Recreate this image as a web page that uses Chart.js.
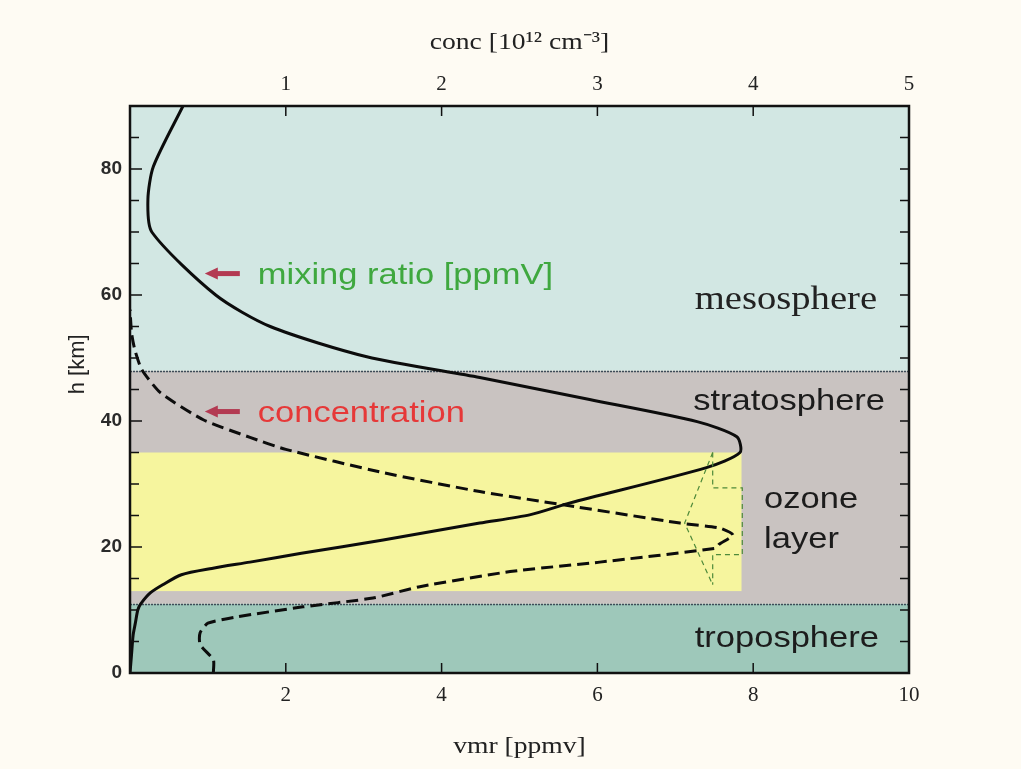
<!DOCTYPE html>
<html>
<head>
<meta charset="utf-8">
<script src="https://cdn.jsdelivr.net/npm/chart.js@4.4.1/dist/chart.umd.min.js"></script>
<style>
	html, body { margin: 0; padding: 0; background: #fefbf3; }
	#wrap { position: relative; width: 1021px; height: 769px; }
</style>
</head>
<body>
<div id="wrap"><canvas id="ozoneChart" width="1021" height="769"></canvas></div>
<script>
// mixing ratio (vmr, ppmv) vs height (km)
const mixHeights = [0, 3, 6, 8, 10, 11, 12.7, 14, 15.6, 16.6, 17.6, 19, 21.1, 23.8, 25.1, 27, 32.6, 35, 37.5, 39.9, 43.4, 46.9, 50.2, 55, 60, 70, 75.2, 80.4, 90];
const mixVmr = [0, 0.02, 0.04, 0.07, 0.1, 0.14, 0.26, 0.42, 0.66, 1.05, 1.54, 2.2, 3.25, 4.49, 5.13, 5.65, 7.4, 7.83, 7.79, 7.28, 5.9, 4.49, 3.04, 1.8, 1.1, 0.28, 0.23, 0.3, 0.68];
// concentration (10^12 cm^-3) vs height (km)
const concHeights = [0, 2.1, 4.5, 6.4, 7.9, 8.9, 10.5, 11.9, 13.7, 16.1, 17.6, 19.8, 20.4, 21.9, 23, 23.8, 26.7, 28.8, 31.8, 35.5, 37.4, 40.2, 44.5, 48.2, 51.4, 54, 57.7];
const concValues = [0.535, 0.535, 0.45, 0.45, 0.5, 0.685, 1.11, 1.56, 1.86, 2.44, 3.015, 3.76, 3.78, 3.87, 3.785, 3.53, 2.78, 2.245, 1.625, 1.0, 0.77, 0.47, 0.195, 0.075, 0.03, 0.01, 0];
// thin green reference profile inside the ozone layer
const stepHeights = [35, 29.4, 29.4, 18.8, 18.8, 14];
const stepVmr = [7.48, 7.48, 7.86, 7.86, 7.48, 7.48];
const diagHeights = [35, 23.8, 14];
const diagVmr = [7.48, 7.12, 7.48];
// atmosphere layers (km)
const layerNames = ['troposphere', 'stratosphere', 'mesosphere'];
const layerBottoms = [0, 11, 48];
const layerTops = [11, 48, 90];
const ozoneLayer = { bottom: 13, top: 35, vmrMax: 7.85 };
// tick labels
const vmrTicks = [2, 4, 6, 8, 10];
const concTicks = [1, 2, 3, 4, 5];
const heightTicks = [0, 20, 40, 60, 80];

const layerColors = ['#9ec8ba', '#c9c3c1', '#d2e7e3'];
const SANS = '"Liberation Sans", Arial, sans-serif';
const SERIF = '"Liberation Serif", "Times New Roman", serif';

const toPoints = (xs, hs) => hs.map((h, i) => ({ x: xs[i], y: h }));

// 横に少し伸ばした文字を描く
function stretchText(ctx, str, px, py, font, color, sx, align) {
	ctx.save();
	ctx.translate(px, py);
	ctx.scale(sx, 1);
	ctx.font = font;
	ctx.fillStyle = color;
	ctx.textAlign = align || 'left';
	ctx.textBaseline = 'alphabetic';
	ctx.fillText(str, 0, 0);
	ctx.restore();
}

function drawArrow(ctx, x0, x1, y, color) {
	ctx.save();
	ctx.strokeStyle = color;
	ctx.fillStyle = color;
	ctx.lineWidth = 5;
	ctx.beginPath();
	ctx.moveTo(x1, y);
	ctx.lineTo(x0 + 10, y);
	ctx.stroke();
	ctx.beginPath();
	ctx.moveTo(x0, y);
	ctx.lineTo(x0 + 13, y - 6);
	ctx.lineTo(x0 + 13, y + 6);
	ctx.closePath();
	ctx.fill();
	ctx.restore();
}

const atmospherePlugin = {
	id: 'atmosphere',
	beforeDatasetsDraw(chart) {
		const { ctx, chartArea: a, scales } = chart;
		const x = scales.x, y = scales.y;
		ctx.save();
		layerBottoms.forEach((b, i) => {
			const top = y.getPixelForValue(layerTops[i]);
			const bot = y.getPixelForValue(b);
			ctx.fillStyle = layerColors[i];
			ctx.fillRect(a.left, top, a.right - a.left, bot - top);
		});
		// ozone layer box
		const oTop = y.getPixelForValue(ozoneLayer.top);
		const oBot = y.getPixelForValue(ozoneLayer.bottom);
		ctx.fillStyle = '#f6f59e';
		ctx.fillRect(a.left, oTop, x.getPixelForValue(ozoneLayer.vmrMax) - a.left, oBot - oTop);
		// layer boundaries
		ctx.strokeStyle = '#3e4c58';
		ctx.lineWidth = 1.6;
		ctx.setLineDash([2, 1]);
		[layerTops[0], layerTops[1]].forEach(h => {
			const py = Math.round(y.getPixelForValue(h)) + 0.5;
			ctx.beginPath();
			ctx.moveTo(a.left, py);
			ctx.lineTo(a.right, py);
			ctx.stroke();
		});
		ctx.restore();
	},
	afterDatasetsDraw(chart) {
		const { ctx, chartArea: a, scales } = chart;
		const x = scales.x, x2 = scales.x2, y = scales.y;
		ctx.save();
		// inward ticks
		ctx.strokeStyle = '#111';
		ctx.lineWidth = 1.5;
		ctx.beginPath();
		y.ticks.forEach(t => {
			const py = y.getPixelForValue(t.value);
			if (t.value <= 0 || t.value >= 90) return;
			const len = t.value % 20 === 0 ? 12 : 9;
			ctx.moveTo(a.left, py); ctx.lineTo(a.left + len, py);
			ctx.moveTo(a.right, py); ctx.lineTo(a.right - 9, py);
		});
		vmrTicks.forEach(v => {
			if (v >= 10) return;
			const px = x.getPixelForValue(v);
			ctx.moveTo(px, a.bottom); ctx.lineTo(px, a.bottom - 10);
		});
		concTicks.forEach(v => {
			if (v >= 5) return;
			const px = x2.getPixelForValue(v);
			ctx.moveTo(px, a.top); ctx.lineTo(px, a.top + 10);
		});
		ctx.stroke();
		// frame
		ctx.lineWidth = 2.5;
		ctx.strokeStyle = '#111';
		ctx.strokeRect(a.left, a.top, a.right - a.left, a.bottom - a.top);

		// layer labels
		const sx = 1.15;
		stretchText(ctx, 'mesosphere', x.getPixelForValue(7.25), y.getPixelForValue(57.7), '33px ' + SERIF, '#222', 1.17);
		stretchText(ctx, 'stratosphere', x.getPixelForValue(7.23), y.getPixelForValue(41.8), '30px ' + SANS, '#1c1c1c', sx);
		stretchText(ctx, 'ozone', x.getPixelForValue(8.14), y.getPixelForValue(26.2), '30px ' + SANS, '#1c1c1c', sx);
		stretchText(ctx, 'layer', x.getPixelForValue(8.14), y.getPixelForValue(19.9), '30px ' + SANS, '#1c1c1c', sx);
		stretchText(ctx, 'troposphere', x.getPixelForValue(7.25), y.getPixelForValue(4.1), '30px ' + SANS, '#1c1c1c', sx);
		// curve labels with arrows
		drawArrow(ctx, x.getPixelForValue(0.96), x.getPixelForValue(1.41), y.getPixelForValue(63.4), '#b33a52');
		drawArrow(ctx, x.getPixelForValue(0.96), x.getPixelForValue(1.41), y.getPixelForValue(41.5), '#b33a52');
		stretchText(ctx, 'mixing ratio [ppmV]', x.getPixelForValue(1.64), y.getPixelForValue(61.7), '30px ' + SANS, '#3fa83f', sx);
		stretchText(ctx, 'concentration', x.getPixelForValue(1.64), y.getPixelForValue(39.9), '30px ' + SANS, '#e63838', sx);

		// axis titles
		const cx = (a.left + a.right) / 2;
		stretchText(ctx, 'conc [10¹² cm⁻³]', cx, a.top - 57, '24px ' + SERIF, '#222', 1.15, 'center');
		stretchText(ctx, 'vmr [ppmv]', cx, a.bottom + 80, '24px ' + SERIF, '#222', 1.15, 'center');
		ctx.save();
		ctx.translate(a.left - 52, y.getPixelForValue(49));
		ctx.rotate(-Math.PI / 2);
		ctx.font = '22px ' + SANS;
		ctx.fillStyle = '#222';
		ctx.textAlign = 'center';
		ctx.textBaseline = 'middle';
		ctx.fillText('h [km]', 0, 0);
		ctx.restore();
		ctx.restore();
	}
};

const tickFontSerif = { family: SERIF, size: 21 };

new Chart(document.getElementById('ozoneChart'), {
	type: 'scatter',
	data: {
		datasets: [{
			label: 'ozone reference (step)',
			data: toPoints(stepVmr, stepHeights),
			xAxisID: 'x',
			showLine: true,
			borderColor: '#4e8a3a',
			borderWidth: 1.2,
			borderDash: [5, 4],
			pointRadius: 0,
			tension: 0
		}, {
			label: 'ozone reference (diag)',
			data: toPoints(diagVmr, diagHeights),
			xAxisID: 'x',
			showLine: true,
			borderColor: '#4e8a3a',
			borderWidth: 1.2,
			borderDash: [5, 4],
			pointRadius: 0,
			tension: 0
		}, {
			label: 'mixing ratio [ppmV]',
			data: toPoints(mixVmr, mixHeights),
			xAxisID: 'x',
			showLine: true,
			borderColor: '#0c0c0c',
			borderWidth: 3,
			pointRadius: 0,
			tension: 0.25
		}, {
			label: 'concentration',
			data: toPoints(concValues, concHeights),
			xAxisID: 'x2',
			showLine: true,
			borderColor: '#0c0c0c',
			borderWidth: 3,
			borderDash: [12, 6],
			pointRadius: 0,
			tension: 0.2
		}]
	},
	options: {
		responsive: false,
		animation: false,
		layout: { padding: { left: 0, right: 112, top: 0, bottom: 0 } },
		plugins: {
			legend: { display: false },
			tooltip: { enabled: false }
		},
		scales: {
			x: {
				type: 'linear',
				position: 'bottom',
				min: 0,
				max: 10,
				afterFit: s => { s.height = 96; },
				grid: { drawOnChartArea: false, drawTicks: false },
				border: { display: false },
				ticks: {
					stepSize: 2,
					padding: 10,
					color: '#222',
					font: tickFontSerif,
					callback: v => vmrTicks.includes(v) ? String(v) : ''
				}
			},
			x2: {
				type: 'linear',
				position: 'top',
				min: 0,
				max: 5,
				afterFit: s => { s.height = 106; },
				grid: { drawOnChartArea: false, drawTicks: false },
				border: { display: false },
				ticks: {
					stepSize: 1,
					padding: 9,
					color: '#222',
					font: tickFontSerif,
					callback: v => concTicks.includes(v) ? String(v) : ''
				}
			},
			y: {
				type: 'linear',
				min: 0,
				max: 90,
				afterFit: s => { s.width = 130; },
				grid: { drawOnChartArea: false, drawTicks: false },
				border: { display: false },
				ticks: {
					stepSize: 5,
					autoSkip: false,
					padding: 8,
					color: '#2a2a2a',
					font: { family: SANS, size: 19, weight: 'bold' },
					callback: v => heightTicks.includes(v) ? String(v) : ''
				}
			}
		}
	},
	plugins: [atmospherePlugin]
});
</script>
</body>
</html>
